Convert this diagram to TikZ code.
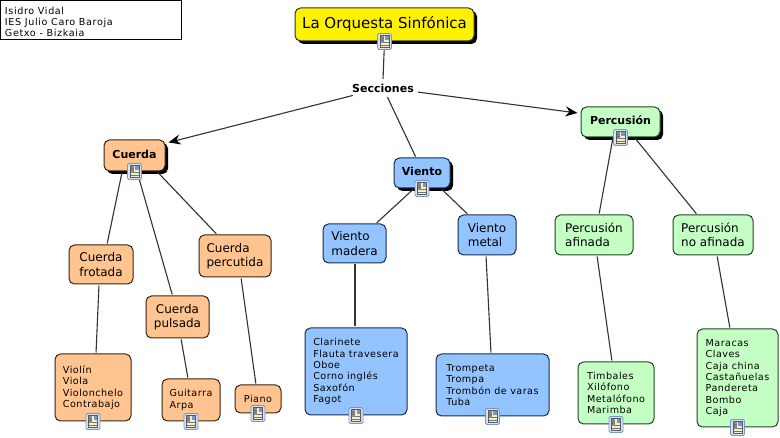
\documentclass[tikz,border=0pt]{standalone}
\usepackage{fontspec}
\setmainfont{DejaVu Sans}
\newfontfamily\listfont[LetterSpace=5]{DejaVu Sans}
\newfontfamily\infofont[LetterSpace=6.5]{DejaVu Sans}
\usepackage{tikz}
\usetikzlibrary{arrows.meta,shadows}
\definecolor{cuerdafill}{RGB}{255,196,143}
\definecolor{cuerdaline}{RGB}{56,36,18}
\definecolor{vientofill}{RGB}{147,196,255}
\definecolor{vientoline}{RGB}{24,44,80}
\definecolor{percfill}{RGB}{196,255,196}
\definecolor{percline}{RGB}{36,70,36}
\definecolor{connline}{RGB}{50,50,50}
\definecolor{iconhalo}{RGB}{214,228,246}
\definecolor{iconedge}{RGB}{120,150,195}
\definecolor{iconpage}{RGB}{244,240,205}
\tikzset{
  box/.style={rectangle,rounded corners=5.5pt,line width=1pt,inner sep=0pt,align=left,
    font=\fontsize{12}{14.3}\selectfont},
  list/.style={font=\listfont\fontsize{9.6}{11.4}\selectfont},
  head/.style={font=\fontsize{11}{13}\selectfont\bfseries,text depth=3pt,
    general shadow={shadow xshift=3pt,shadow yshift=-3pt,fill=black}},
  cuerdabox/.style={box,fill=cuerdafill,draw=cuerdaline},
  vientobox/.style={box,fill=vientofill,draw=vientoline},
  percbox/.style={box,fill=percfill,draw=percline},
  conn/.style={draw=connline,line width=1.1pt,shorten <=1pt,shorten >=1pt},
  tip/.style={conn,shorten >=0pt,-{Stealth[length=12pt,width=10pt,black]}},
  docicon/.pic={
    \draw[draw=iconedge,fill=iconhalo,rounded corners=1.5pt,line width=0.8pt] (-7,-8) rectangle (7,8);
    \draw[draw=black!65,fill=iconpage,line width=0.7pt] (-4.5,-6) rectangle (4.5,6);
    \fill[iconedge] (0.5,-5.5) rectangle (4,-1.5);
    \fill[black!45] (-4,-5.5) rectangle (-1,2);
    \draw[black!55,line width=0.6pt] (-4,-3.5) -- (-1,-3.5) (-4,-1.5) -- (-1,-1.5) (-1,1) -- (4,1) (-4,3.5) -- (4,3.5);
  }
}
\begin{document}
\begin{tikzpicture}[x=1pt,y=-1pt]
  \useasboundingbox (0,0) rectangle (780,438);
  \fill[white] (0,0) rectangle (780,438);
  % credits
  \node[draw=black,line width=1pt,minimum width=181pt,minimum height=39pt,inner sep=0pt,
    font=\infofont\fontsize{9.6}{11.4}\selectfont,align=left] (info) at (91,20.5)
    {\rule{0pt}{10.3pt}\makebox[172pt][l]{Isidro Vidal}\\\makebox[172pt][l]{IES Julio Caro Baroja}\\\makebox[172pt][l]{Getxo - Bizkaia}};
  % title and linking phrase
  \node[box,fill=yellow,draw=black!80,align=center,minimum width=179pt,minimum height=33pt,
    font=\fontsize{15}{18}\selectfont,general shadow={shadow xshift=3pt,shadow yshift=-3pt,fill=black}]
    (orquesta) at (384.5,24.5) {La Orquesta Sinfónica};
  \node[font=\fontsize{11}{13}\selectfont\bfseries,inner sep=0pt,minimum width=62pt,minimum height=16pt]
    (secciones) at (383,88) {Secciones};
  % cuerda
  \node[cuerdabox,head,minimum width=61pt,minimum height=31pt] (cuerda) at (134.5,155.5) {Cuerda};
  \node[cuerdabox,align=center,minimum width=64pt,minimum height=39pt] (frotada) at (101,264.5) {Cuerda\\frotada};
  \node[cuerdabox,align=center,minimum width=63pt,minimum height=42pt] (pulsada) at (177.5,317) {Cuerda\\pulsada};
  \node[cuerdabox,minimum width=72pt,minimum height=42pt] (percutida) at (235,256) {Cuerda\\percutida};
  \node[cuerdabox,list,minimum width=76pt,minimum height=67pt] (violin) at (93,387.5) {Violín\\Viola\\Violonchelo\\Contrabajo};
  \node[cuerdabox,list,minimum width=58pt,minimum height=42pt] (guitarra) at (191,400) {Guitarra\\Arpa};
  \node[cuerdabox,list,minimum width=46pt,minimum height=28pt] (piano) at (258,399) {Piano};
  % viento
  \node[vientobox,head,minimum width=56pt,minimum height=30pt] (viento) at (422,173) {Viento};
  \node[vientobox,minimum width=63pt,minimum height=39pt] (madera) at (354.5,243.5) {Viento\\madera};
  \node[vientobox,minimum width=58pt,minimum height=40pt] (metal) at (487,235) {Viento\\metal};
  \node[vientobox,list,minimum width=102pt,minimum height=87pt] (clarinete) at (356,371.5)
    {Clarinete\\Flauta travesera\\Oboe\\Corno inglés\\Saxofón\\Fagot};
  \node[vientobox,list,minimum width=113pt,minimum height=62pt] (trompeta) at (492.5,385)
    {Trompeta\\Trompa\\Trombón de varas\\Tuba};
  % percusion
  \node[percbox,head,minimum width=79pt,minimum height=30pt] (percusion) at (620.5,122) {Percusión};
  \node[percbox,minimum width=78pt,minimum height=40pt] (afinada) at (594,235) {Percusión\hspace{3pt}\\afinada};
  \node[percbox,minimum width=80pt,minimum height=40pt] (noafinada) at (713,235) {Percusión\\no afinada\hspace{3pt}};
  \node[percbox,list,minimum width=76pt,minimum height=62pt] (timbales) at (616,393)
    {Timbales\\Xilófono\\Metalófono\\Marimba};
  \node[percbox,list,minimum width=81pt,minimum height=98pt] (maracas) at (737.5,378)
    {Maracas\\Claves\\Caja china\\Castañuelas\\Pandereta\\Bombo\\Caja};
  % connectors
  \draw[conn] (orquesta.south) -- (secciones.north);
  \draw[tip] ([shift={(2,-1)}]secciones.south west) -- ([shift={(3,3)}]cuerda.north east);
  \draw[conn] ([xshift=4pt]secciones.south) -- ([xshift=-6pt]viento.north);
  \draw[tip] ([shift={(3,4)}]secciones.east) -- ([shift={(-3,-9)}]percusion.west);
  \draw[conn] ([xshift=-12.3pt]cuerda.south) -- ([xshift=6pt]frotada.north);
  \draw[conn] ([xshift=2.5pt]cuerda.south) -- ([xshift=-5pt]pulsada.north);
  \draw[conn] ([xshift=22.5pt]cuerda.south) -- ([xshift=-18pt]percutida.north);
  \draw[conn] ([xshift=-2pt]frotada.south) -- ([xshift=3pt]violin.north);
  \draw[conn] ([xshift=3.5pt]pulsada.south) -- ([xshift=-3pt]guitarra.north);
  \draw[conn] ([xshift=6pt]percutida.south) -- ([xshift=-2pt]piano.north);
  \draw[conn] ([xshift=-8pt]viento.south) -- ([xshift=21.5pt]madera.north);
  \draw[conn] ([xshift=19pt]viento.south) -- ([xshift=-19pt]metal.north);
  \draw[conn] ([xshift=0.5pt]madera.south) -- ([xshift=-1pt]clarinete.north);
  \draw[conn] ([xshift=-1pt]metal.south) -- ([xshift=-1.5pt]trompeta.north);
  \draw[conn] ([xshift=-7.5pt]percusion.south) -- ([xshift=5pt]afinada.north);
  \draw[conn] ([xshift=14pt]percusion.south) -- ([xshift=-16pt]noafinada.north);
  \draw[conn] ([xshift=3pt]afinada.south) -- ([xshift=-4pt]timbales.north);
  \draw[conn] ([xshift=4pt]noafinada.south) -- ([xshift=-7.5pt]maracas.north);
  % document icons
  \foreach \n in {orquesta,cuerda,viento,percusion,violin,guitarra,piano,clarinete,trompeta,timbales,maracas}
    \pic at (\n.south) {docicon};
\end{tikzpicture}
\end{document}
